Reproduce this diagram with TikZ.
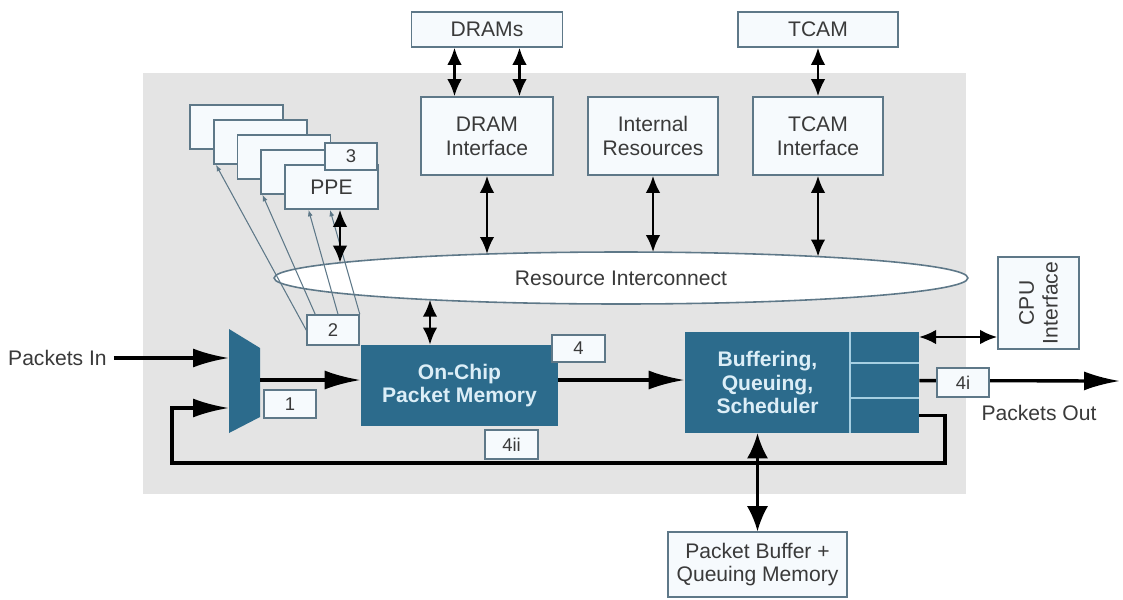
\documentclass[tikz,border=0pt]{standalone}
\usepackage{fontspec}
\setmainfont{Liberation Sans}
\usepackage{tikz}
\usetikzlibrary{arrows.meta,shapes.geometric}
\usepackage{xcolor}
\definecolor{chip}{HTML}{E4E4E4}
\definecolor{frame}{HTML}{5E7888}
\definecolor{paper}{HTML}{F6FAFD}
\definecolor{pipe}{HTML}{2C6B8C}
\definecolor{glow}{HTML}{DCEEF7}
\definecolor{lane}{HTML}{A6CFE2}
\definecolor{ink}{HTML}{3A3A3A}

\begin{document}
\begin{tikzpicture}[x=0.02cm, y=-0.02cm,
		every node/.style={font=\fontsize{12}{13.5}\selectfont, text=ink, align=center, inner sep=0pt},
		block/.style={draw=frame, line width=0.9pt, fill=paper},
		tag/.style={block, minimum width=1.04cm, minimum height=0.56cm, font=\fontsize{10.5}{12}\selectfont},
		core/.style={fill=pipe, text=glow, font=\fontsize{12}{13.5}\selectfont\bfseries},
		flow/.style={line width=1.9pt, -{Latex[length=7.2mm,width=3.8mm]}},
		link/.style={line width=1.4pt, {Latex[length=3.4mm,width=2.9mm]}-{Latex[length=3.4mm,width=2.9mm]}},
		feed/.style={draw=frame, line width=0.6pt, -{Latex[length=1.3mm,width=1mm]}}
	]
		\useasboundingbox (0,0) rectangle (1123,599);
		\fill[white] (0,0) rectangle (1123,599);
		\fill[chip] (143,73) rectangle (966,494);
		%
		\node[draw=frame, line width=0.9pt, fill=white, ellipse, minimum width=13.88cm, minimum height=1.04cm] (ring) at (621,278) {Resource Interconnect};
		\coordinate (rd) at (487,254);
		\coordinate (ri) at (653,252.1);
		\coordinate (rt) at (818,256.6);
		\coordinate (rp) at (340,262.7);
		\coordinate (rm) at (430,299.7);
		%
		\foreach \i in {0,...,3}
			\node[block, minimum width=1.86cm, minimum height=0.88cm] (ppe\i) at (236.5+23.75*\i,127+15*\i) {};
		\node[block, minimum width=1.86cm, minimum height=0.88cm] (ppe4) at (331.5,187) {PPE};
		\node[tag, minimum height=0.54cm] (n3) at (351,156.5) {3};
		%
		\node[tag, minimum height=0.6cm] (n2) at (333,330) {2};
		\draw[feed] (n2.west) -- ([xshift=0.6mm]ppe1.south west);
		\draw[feed] ([xshift=1.8mm]n2.north west) -- ([xshift=0.4mm]ppe3.south west);
		\draw[feed] ([xshift=1mm]n2.north) -- ([xshift=-4.6mm]ppe4.south);
		\draw[feed] (n2.north east) -- ([xshift=-0.3mm]ppe4.south);
		%
		\node[block, minimum width=3.02cm, minimum height=0.7cm] (drams) at (487,29.5) {DRAMs};
		\node[block, minimum width=2.64cm, minimum height=1.56cm] (dramif) at (487,136) {DRAM\\Interface};
		\node[block, minimum width=2.6cm, minimum height=1.56cm] (intres) at (653,136) {Internal\\Resources};
		\node[block, minimum width=2.6cm, minimum height=1.56cm] (tcamif) at (818,136) {TCAM\\Interface};
		\node[block, minimum width=3.2cm, minimum height=0.7cm] (tcam) at (818,29.5) {TCAM};
		%
		\draw[link] ([xshift=-6.5mm]drams.south) -- ([xshift=-6.5mm]dramif.north);
		\draw[link] ([xshift=6.5mm]drams.south) -- ([xshift=6.5mm]dramif.north);
		\draw[link] (tcam) -- (tcamif);
		\draw[link] (dramif) -- (rd);
		\draw[link] (intres) -- (ri);
		\draw[link] (tcamif) -- (rt);
		\draw[link] (rp |- ppe4.south) -- (rp);
		%
		\fill[pipe] (229,329) -- (260,348) -- (260,417) -- (229,433) -- cycle;
		\coordinate (muxa) at (229,358);
		\coordinate (muxb) at (229,408);
		\coordinate (muxo) at (260,380);
		%
		\node[core, minimum width=3.94cm, minimum height=1.62cm] (ocpm) at (459.5,385.5) {On-Chip\\Packet Memory};
		\draw[link] (rm) -- (rm |- ocpm.north);
		\node[core, minimum width=3.3cm, minimum height=2.02cm] (bqs) at (767.5,382.5) {Buffering,\\Queuing,\\Scheduler};
		\node[fill=pipe, minimum width=1.38cm, minimum height=0.62cm] (q1) at (884.5,347.5) {};
		\node[fill=pipe, minimum width=1.38cm, minimum height=0.7cm] (q2) at (884.5,380.5) {};
		\node[fill=pipe, minimum width=1.38cm, minimum height=0.7cm] (q3) at (884.5,415.5) {};
		\draw[lane, line width=1pt] (q1.north west) -- (q3.south west);
		\draw[lane, line width=1pt] (q1.south west) -- (q1.south east);
		\draw[lane, line width=1pt] (q2.south west) -- (q2.south east);
		%
		\node[block, minimum width=1.62cm, minimum height=1.84cm] (cpu) at (1038.5,303) {};
		\node[rotate=90] (cpulbl) at (cpu) {CPU\\Interface};
		\node[block, minimum width=3.58cm, minimum height=1.3cm] (pbqm) at (757.5,564.5) {Packet Buffer +\\Queuing Memory};
		%
		\node[anchor=east] (pin) at (107,358) {Packets In};
		\node (ptxt) at (1039,413) {Packets Out};
		\coordinate (pout) at (1120,381);
		\coordinate (cpuport) at (919,337);
		\coordinate (loopr) at (945,463);
		\coordinate (loopl) at (172,408);
		%
		\draw[flow, shorten <=1.4mm] (pin) -- (muxa);
		\draw[flow] (muxo) -- (muxo -| ocpm.west);
		\draw[flow] (ocpm.east |- muxo) -- (muxo -| bqs.west);
		\draw[flow] (q2) -- (pout);
		\draw[flow] (q3.east) -| (loopr) -| (loopl) -- (muxb);
		\draw[link] (cpuport) -- (cpuport -| cpu.west);
		\draw[link, {Latex[length=5mm,width=4.2mm]}-{Latex[length=5mm,width=4.2mm]}] (pbqm) -- (pbqm |- bqs.south);
		%
		\node[tag] (n1) at (290,404) {1};
		\node[tag, minimum width=1.06cm, minimum height=0.54cm] (n4) at (578.5,348.5) {4};
		\node[tag, minimum width=1.06cm, minimum height=0.58cm] (n4ii) at (511.5,444.5) {4ii};
		\node[tag, minimum height=0.58cm] (n4i) at (963,382.5) {4i};
	\end{tikzpicture}
\end{document}
